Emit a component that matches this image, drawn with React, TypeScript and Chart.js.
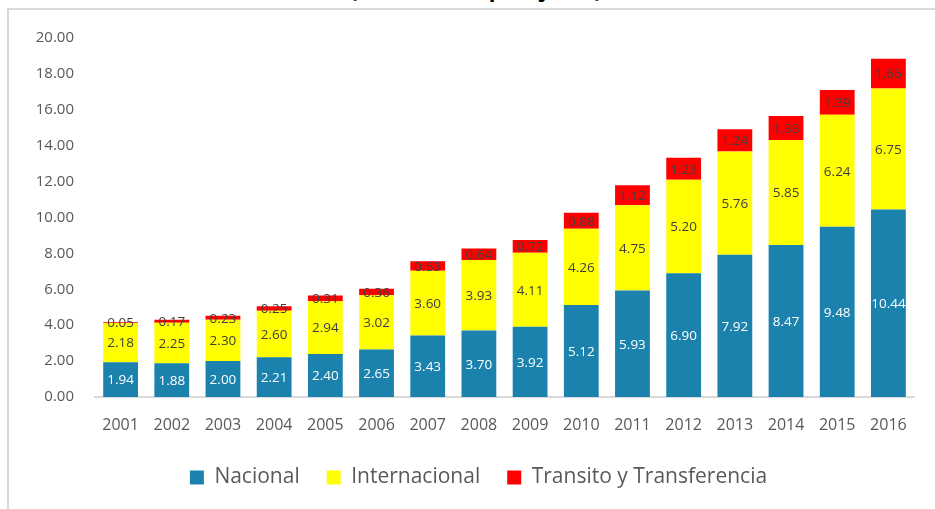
import React, { useEffect, useRef } from "react";
import { Chart, registerables } from "chart.js";

Chart.register(...registerables);

const years = ["2001","2002","2003","2004","2005","2006","2007","2008","2009","2010","2011","2012","2013","2014","2015","2016"];
const nacional = [1.94,1.88,2.00,2.21,2.40,2.65,3.43,3.70,3.92,5.12,5.93,6.90,7.92,8.47,9.48,10.44];
const internacional = [2.18,2.25,2.30,2.60,2.94,3.02,3.60,3.93,4.11,4.26,4.75,5.20,5.76,5.85,6.24,6.75];
const transito = [0.05,0.17,0.23,0.25,0.31,0.36,0.53,0.64,0.72,0.88,1.12,1.23,1.24,1.33,1.39,1.66];
const seriesNames = ["Nacional", "Internacional", "Transito y Transferencia"];
const titleText = "(Millones de pasajeros)";

const FONT = "'Open Sans', 'DejaVu Sans', sans-serif";

const labelPlugin = {
  id: "barLabels",
  afterDatasetsDraw(chart: any) {
    const ctx = chart.ctx;
    const colors = ["#ffffff", "#404040", "#404040"];
    ctx.save();
    ctx.font = `13.5px ${FONT}`;
    ctx.textAlign = "center";
    ctx.textBaseline = "middle";
    chart.data.datasets.forEach((ds: any, di: number) => {
      const meta = chart.getDatasetMeta(di);
      meta.data.forEach((el: any, i: number) => {
        const p = el.getProps(["x", "y", "base"], true);
        const cy = (p.y + p.base) / 2;
        ctx.fillStyle = colors[di];
        ctx.fillText(Number(ds.data[i]).toFixed(2), p.x, cy + 1);
      });
    });
    ctx.restore();
  },
};

// shift the legend block to the right so that it is centred like the original
const legendShift = {
  id: "legendShift",
  afterLayout(chart: any) {
    if (chart.legend) chart.legend.left += 43;
  },
};

export default function App() {
  const ref = useRef<HTMLCanvasElement | null>(null);
  useEffect(() => {
    if (!ref.current) return;
    const chart = new Chart(ref.current, {
      type: "bar",
      data: {
        labels: years,
        datasets: [
          { label: seriesNames[0], data: nacional, backgroundColor: "#1a82ad" },
          { label: seriesNames[1], data: internacional, backgroundColor: "#ffff00" },
          { label: seriesNames[2], data: transito, backgroundColor: "#ff0000" },
        ],
      },
      options: {
        responsive: false,
        animation: false,
        layout: { padding: { top: 38, right: 21, bottom: 11, left: 0 } },
        datasets: { bar: { categoryPercentage: 1, barPercentage: 0.68 } } as any,
        plugins: {
          legend: {
            position: "bottom",
            labels: {
              boxWidth: 14,
              boxHeight: 14,
              padding: 27,
              color: "#595959",
              font: { family: FONT, size: 21 },
            },
          },
          tooltip: { enabled: false },
        },
        scales: {
          x: {
            stacked: true,
            grid: { display: false, drawTicks: false },
            border: { display: true, color: "#d9d9d9", width: 2 },
            ticks: { color: "#595959", padding: 19, font: { family: FONT, size: 16 } },
            afterFit: (s: any) => { s.height = 43; },
          },
          y: {
            stacked: true,
            min: 0,
            max: 20,
            grid: { display: false, drawTicks: false },
            border: { display: false },
            ticks: {
              stepSize: 2,
              padding: 21,
              color: "#595959",
              font: { family: FONT, size: 15 },
              callback: (v: any) => Number(v).toFixed(2),
            },
            afterFit: (s: any) => { s.width = 95; },
          },
        },
      },
      plugins: [labelPlugin, legendShift],
    });
    return () => chart.destroy();
  }, []);

  return (
    <div style={{ position: "fixed", left: 0, top: 0, width: 935, height: 509, overflow: "hidden", background: "#fff" }}>
      <div style={{ position: "absolute", left: 0, top: -23, width: 952, textAlign: "center", fontFamily: FONT, fontWeight: 700, fontSize: 22, lineHeight: "22px", color: "#000" }}>
        {titleText}
      </div>
      <div style={{ position: "absolute", left: 7, top: 8, width: 960, height: 560, border: "2px solid #d9d9d9", boxSizing: "border-box" }} />
      <canvas ref={ref} width={935} height={509} style={{ position: "absolute", left: 0, top: 0 }} />
    </div>
  );
}
